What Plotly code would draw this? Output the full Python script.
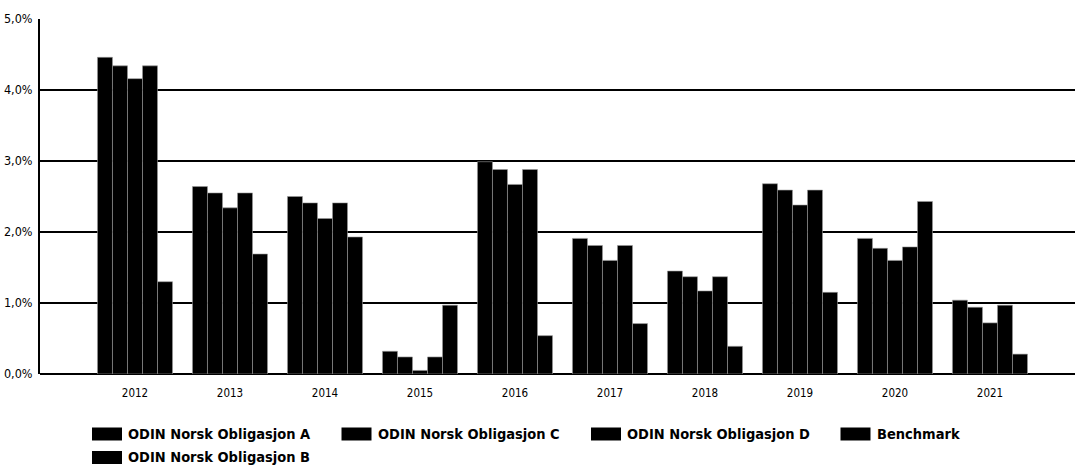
import plotly.graph_objects as go

years = ["2012", "2013", "2014", "2015", "2016", "2017", "2018", "2019", "2020", "2021"]

odin_a = [4.46, 2.64, 2.50, 0.32, 2.99, 1.91, 1.45, 2.68, 1.91, 1.04]
odin_b = [4.34, 2.55, 2.41, 0.24, 2.88, 1.81, 1.37, 2.59, 1.77, 0.94]
odin_c = [4.16, 2.34, 2.19, 0.05, 2.67, 1.60, 1.17, 2.38, 1.60, 0.72]
odin_d = [4.34, 2.55, 2.41, 0.24, 2.88, 1.81, 1.37, 2.59, 1.79, 0.97]
benchmark = [1.30, 1.69, 1.93, 0.97, 0.54, 0.71, 0.39, 1.15, 2.43, 0.28]

y_ticks = [0, 1, 2, 3, 4, 5]
y_tick_labels = ["0,0%", "1,0%", "2,0%", "3,0%", "4,0%", "5,0%"]

series_names = ["ODIN Norsk Obligasjon A", "ODIN Norsk Obligasjon B",
                "ODIN Norsk Obligasjon C", "ODIN Norsk Obligasjon D", "Benchmark"]
series_values = [odin_a, odin_b, odin_c, odin_d, benchmark]

# legend reading order (wraps onto a second row)
legend_order = ["ODIN Norsk Obligasjon A", "ODIN Norsk Obligasjon C",
                "ODIN Norsk Obligasjon D", "Benchmark", "ODIN Norsk Obligasjon B"]

FONT = "DejaVu Sans Condensed, Liberation Sans Narrow, sans-serif"
BAR_COLOR = "#000000"

fig = go.Figure()
for name, vals in zip(series_names, series_values):
    fig.add_trace(go.Bar(
        x=years, y=vals, name=name, showlegend=False,
        marker=dict(color=BAR_COLOR, line=dict(color="#9a9a9a", width=0.6)),
    ))

# Legend drawn as wide swatches + labels below the plot area
W, H = 1075, 468
ML, MR, MT, MB = 40, 0, 19, 94
pw, ph = W - ML - MR, H - MT - MB
entry_w = 249.5
per_row = 4
shapes, annotations = [], []
for i, name in enumerate(legend_order):
    row, col = divmod(i, per_row)
    x0 = 92 + col * entry_w
    yc = 434 + row * 23.5
    shapes.append(dict(
        type="rect", xref="paper", yref="paper",
        x0=(x0 - ML) / pw, x1=(x0 + 30 - ML) / pw,
        y0=(MT + ph - (yc + 6.5)) / ph, y1=(MT + ph - (yc - 6.5)) / ph,
        fillcolor=BAR_COLOR, line=dict(width=0),
    ))
    annotations.append(dict(
        xref="paper", yref="paper", x=(x0 + 34 - ML) / pw, y=(MT + ph - yc) / ph,
        xanchor="left", yanchor="middle", showarrow=False, text=name,
        font=dict(family=FONT, size=14.5, weight="bold", color="#000"),
    ))

fig.update_layout(
    width=W, height=H,
    margin=dict(l=ML, r=MR, t=MT, b=MB),
    paper_bgcolor="white", plot_bgcolor="white",
    barmode="group", bargap=0.21, bargroupgap=0,
    font=dict(family=FONT, color="#000"),
    shapes=shapes, annotations=annotations,
    showlegend=False,
)

fig.update_xaxes(
    type="category", range=[-1.0, 9.895],
    showgrid=False, showline=False, zeroline=False,
    ticks="", tickfont=dict(size=11.5),
    ticklabelstandoff=10,
)
fig.update_yaxes(
    range=[0, 5], tickvals=y_ticks, ticktext=y_tick_labels,
    showgrid=True, gridcolor="#000", gridwidth=1.6,
    showline=True, linecolor="#000", linewidth=2,
    zeroline=True, zerolinecolor="#000", zerolinewidth=2,
    ticks="", tickfont=dict(size=12.5), ticklabelstandoff=3,
)

fig.write_html("out.html")
